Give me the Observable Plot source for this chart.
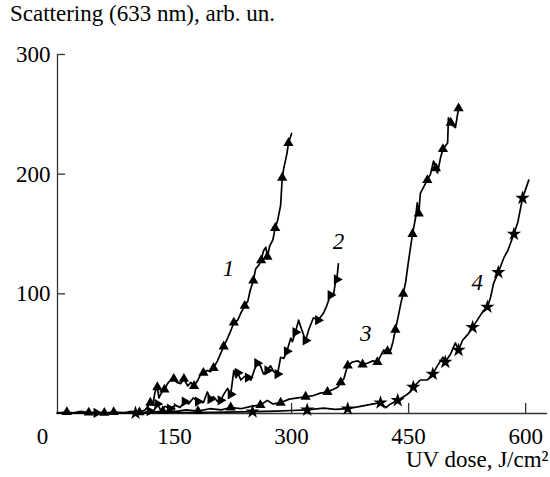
<!DOCTYPE html>
<html><head><meta charset="utf-8">
<script src="https://cdn.jsdelivr.net/npm/d3@7"></script>
<script src="https://cdn.jsdelivr.net/npm/@observablehq/plot@0.6"></script>
<style>
body{margin:0;background:#fff;}
#title{font-family:"Liberation Serif",serif;font-size:23px;line-height:28px;height:28px;padding-left:10px;color:#000;white-space:nowrap;}
</style></head><body>
<div id="title">Scattering (633 nm), arb. un.</div>
<div id="chart"></div>
<script>
// UV dose (J/cm^2), scattering (arb. un.)
const curve1 = [[0,0.5],[12,1.2],[20,0.6],[30,1.8],[40,0.7],[50,1],[62,0.5],[72,1.2],[85,0.8],[95,1.5],[105,1],[112,3],[115,5],[119,9],[122,7],[125,18],[128,22],[130,13],[133,17],[137,20],[141,25],[145,28],[149,29],[153,26],[158,25],[162,29],[167,23],[171,26],[175,23],[180,28],[183,32],[187,34],[192,36],[196,35],[200,38],[205,44],[209,50],[213,56],[218,63],[222,69],[226,76],[231,78],[235,84],[240,90],[244,94],[247,103],[251,111],[254,121],[258,124],[261,128],[264,136],[267,139],[269,131],[272,140],[276,145],[279,155],[282,161],[286,174],[288,197],[290,205],[294,217],[296,226],[300,234]];
const curve2 = [[0,0.3],[50,0.5],[100,0.7],[112,1],[118,2],[122,1],[126,5],[128,8],[132,3],[138,6],[144,4],[151,7],[157,5],[163,10],[168,8],[174,13],[180,10],[187,9],[192,18],[196,12],[200,14],[205,10],[209,11],[214,17],[218,21],[222,16],[226,36],[229,30],[231,34],[235,28],[240,31],[244,30],[248,28],[252,36],[256,42],[260,40],[264,33],[269,36],[273,40],[277,35],[282,33],[286,47],[290,46],[294,52],[299,63],[301,60],[305,68],[309,78],[313,70],[318,61],[322,70],[328,80],[334,78],[341,84],[345,90],[350,99],[354,100],[356,109],[358,112],[360,125]];
const curve3 = [[0,0.3],[60,0.5],[100,0.6],[120,1],[135,2],[150,1.5],[165,3],[180,2],[195,4],[210,3],[222,5],[235,4],[248,6],[260,7],[269,11],[276,8],[286,9],[297,12],[308,13],[318,14],[328,15],[337,17],[346,18],[353,20],[359,22],[363,26],[367,29],[370,36],[372,40],[378,43],[385,44],[391,41],[397,42],[404,44],[410,43],[414,48],[418,53],[423,52],[427,53],[430,60],[433,70],[437,82],[440,92],[443,100],[446,109],[450,128],[455,150],[459,164],[461,176],[463,167],[465,184],[469,189],[474,195],[478,200],[482,211],[485,205],[487,201],[491,214],[494,221],[500,226],[501,247],[504,243],[506,241],[510,239],[514,255]];
const curve4 = [[0,0.3],[100,0.4],[150,0.8],[200,1],[250,1.5],[280,2],[300,2.5],[320,3],[341,4.5],[356,3.5],[372,4],[388,6],[405,8],[414,9],[421,5],[427,8],[436,11],[446,15],[452,18],[456,22],[465,28],[474,28],[481,33],[487,40],[494,47],[497,43],[504,50],[510,59],[514,53],[519,61],[527,67],[532,72],[538,78],[546,86],[551,89],[555,97],[559,109],[565,118],[572,130],[577,136],[585,150],[590,160],[593,170],[596,180],[604,195]];
const seriesNames = ["1","2","3","4"];
const labelX = [219, 360, 395, 538];
const labelY = [121, 144, 67, 109];
const xTicks = [150, 300, 450, 600];
const yTicks = [100, 200, 300];
const xLabel = "UV dose, J/cm²";

const curves = [curve1, curve2, curve3, curve4];
const rows = [];
curves.forEach((c, k) => c.forEach(([x, y], i) => rows.push({x, y, k: seriesNames[k], i})));
const labels = seriesNames.map((s, k) => ({x: labelX[k], y: labelY[k], text: s}));
const mk = (k) => rows.filter(d => d.k === k && d.i % 3 === 1);

const W = 550, H = 449, ML = 57, MR = 3, MT = 26, MB = 64;
const plot = Plot.plot({
  width: W, height: H,
  marginLeft: ML, marginRight: MR, marginTop: MT, marginBottom: MB,
  style: {fontFamily: '"Liberation Serif", serif', fontSize: "23px", color: "black", background: "white"},
  x: {domain: [0, 628]},
  y: {domain: [0, 300]},
  marks: [
    Plot.axisX({ticks: xTicks, tickSize: 0, tickPadding: 14, label: null}),
    Plot.axisY({ticks: yTicks, tickSize: 0, tickPadding: 7, label: null}),
    Plot.tickX(xTicks, {x: d => d, insetTop: (H - MT - MB) - 10, stroke: "#333", strokeWidth: 1.3}),
    Plot.tickY(yTicks, {y: d => d, insetRight: (W - ML - MR) - 8, stroke: "#333", strokeWidth: 1.3}),
    Plot.ruleX([0], {stroke: "#333", strokeWidth: 1.3}),
    Plot.ruleY([0], {stroke: "#333", strokeWidth: 1.3}),
    Plot.text([0], {x: 0, y: 0, text: d => String(d), dx: -15, dy: 23}),
    Plot.text([xLabel], {frameAnchor: "bottom-right", textAnchor: "end", text: d => d, dy: 53, dx: 1}),
    Plot.line(rows, {x: "x", y: "y", z: "k", stroke: "black", strokeWidth: 1.7}),
    Plot.dot(mk("1"), {x: "x", y: "y", symbol: "triangle", r: 3.8, fill: "black"}),
    Plot.dot(mk("2"), {x: "x", y: "y", symbol: "triangle", rotate: 90, r: 3.8, fill: "black"}),
    Plot.dot(mk("3"), {x: "x", y: "y", symbol: "triangle", r: 3.8, fill: "black"}),
    Plot.dot(mk("4"), {x: "x", y: "y", symbol: "star", r: 4.5, fill: "black"}),
    Plot.text(labels, {x: "x", y: "y", text: "text", fontStyle: "italic", fontSize: 23})
  ]
});
document.getElementById("chart").appendChild(plot);
</script>
</body></html>
